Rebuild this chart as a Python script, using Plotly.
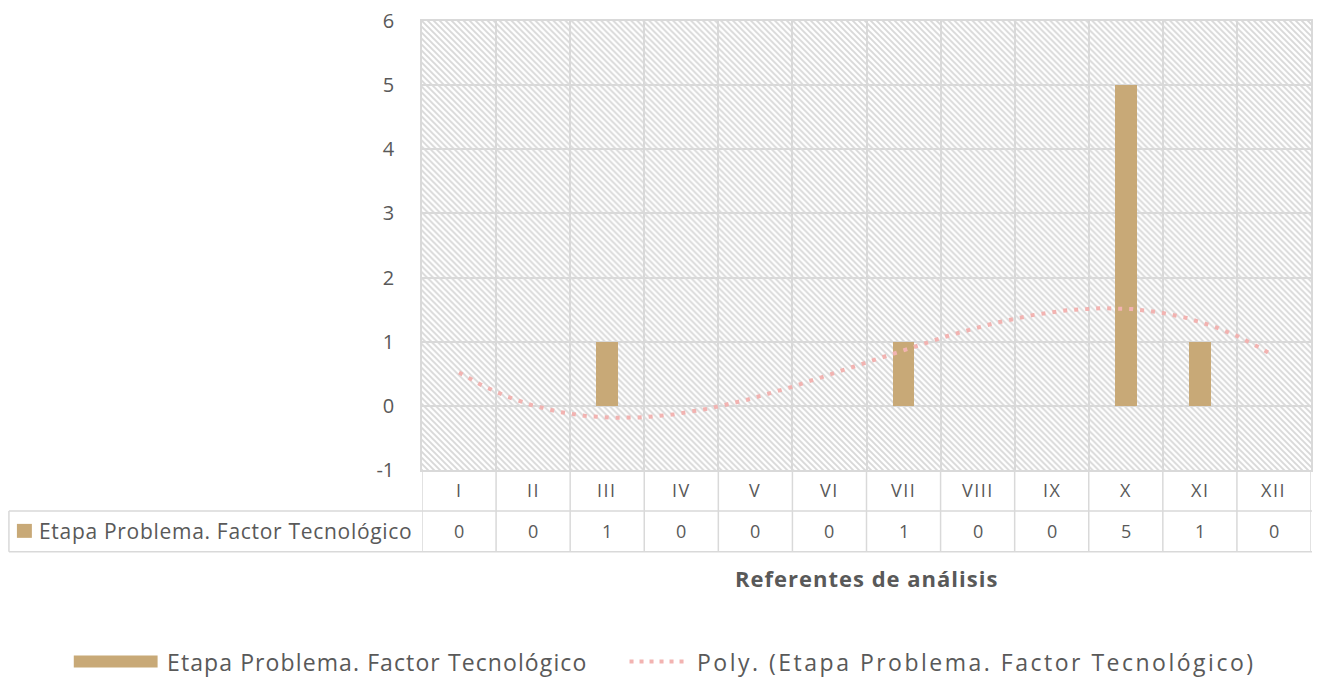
import base64
import numpy as np
import plotly.graph_objects as go

# --- data -------------------------------------------------------------
categories = ["I", "II", "III", "IV", "V", "VI", "VII", "VIII", "IX", "X", "XI", "XII"]
values = [0, 0, 1, 0, 0, 0, 1, 0, 0, 5, 1, 0]
series_name = "Etapa Problema. Factor Tecnológico"
trend_name = "Poly. (Etapa Problema. Factor Tecnológico)"
y_ticks = [-1, 0, 1, 2, 3, 4, 5, 6]
axis_title = "Referentes de análisis"

# --- styling ----------------------------------------------------------
BAR = "#C8A977"
TREND = "#F2B3B1"
GRID = "#D9D9D9"
TEXT = "#595959"
FONT = "'Open Sans', sans-serif"

W, H = 1320, 677
L, R, T, B = 422, 7, 20, 207
PW, PH = W - L - R, H - T - B


def xp(px):
    """pixel x -> paper x"""
    return (px - L) / PW


def yp(py):
    """pixel y -> paper y"""
    return (T + PH - py) / PH


def spaced(text, px):
    return f'<span style="letter-spacing:{px}px">{text}</span>'


n = len(categories)
idx = np.arange(n)
xmin, xmax = -0.5, n - 0.5
ymin, ymax = y_ticks[0], y_ticks[-1]
boundaries = list(np.arange(xmin, xmax + 0.01, 1.0))

# diagonal hatching used as the plot-area fill
hatch_svg = (
    f'<svg xmlns="http://www.w3.org/2000/svg" width="{PW}" height="{PH}">'
    '<defs><pattern id="h" patternUnits="userSpaceOnUse" width="6" height="6">'
    '<rect width="6" height="6" fill="white"/>'
    '<path d="M-1,-1 L7,7 M-1,5 L1,7 M5,-1 L7,1" stroke="#D8D8D8" stroke-width="1.9"/>'
    '</pattern></defs>'
    f'<rect width="{PW}" height="{PH}" fill="url(#h)"/></svg>'
)
hatch_src = "data:image/svg+xml;base64," + base64.b64encode(hatch_svg.encode()).decode()

fig = go.Figure()

# bars
fig.add_trace(go.Bar(x=idx, y=values, width=0.29, marker=dict(color=BAR, line=dict(width=0)),
                     name=series_name, showlegend=False))

# polynomial (order 3) trend line
coef = np.polyfit(idx + 1, values, 3)
xs = np.linspace(0, n - 1, 300)
ys = np.polyval(coef, xs + 1)
fig.add_trace(go.Scatter(x=xs, y=ys, mode="lines", name=trend_name, showlegend=False,
                         line=dict(color=TREND, width=4, dash="4px,7px")))

shapes = []
annotations = []


def note(x, y, text, size, xref="paper", xanchor="center"):
    annotations.append(dict(x=x, y=y, xref=xref, yref="paper", text=text, showarrow=False,
                            xanchor=xanchor, yanchor="middle",
                            font=dict(size=size, color=TEXT, family=FONT)))


# data table under the axis
row1_top, row2_top, row2_bot = 470, 511, 552
line = dict(color=GRID, width=1.5)
for yy in (row2_top, row2_bot):
    shapes.append(dict(type="line", xref="paper", yref="paper", x0=xp(8), x1=1 + 1 / PW,
                       y0=yp(yy), y1=yp(yy), line=line))
shapes.append(dict(type="line", xref="paper", yref="paper", x0=xp(8), x1=xp(8),
                   y0=yp(row2_top), y1=yp(row2_bot), line=line))
for b in boundaries:
    shapes.append(dict(type="line", xref="x", yref="paper", x0=b, x1=b,
                       y0=yp(row1_top), y1=yp(row2_bot), line=line))
for i, c in enumerate(categories):
    note(i, yp((row1_top + row2_top) / 2), spaced(c, 1.5), 18, xref="x")
    note(i, yp((row2_top + row2_bot) / 2), str(values[i]), 18, xref="x")
shapes.append(dict(type="rect", xref="paper", yref="paper", x0=xp(16), x1=xp(31),
                   y0=yp(524), y1=yp(538), fillcolor=BAR, line=dict(width=0)))
note(xp(36), yp(531.5), spaced(series_name, 0.7), 21, xanchor="left")

# axis title
note(xp(867), yp(578), "<b>" + spaced(axis_title, 1.0) + "</b>", 22)

# legend drawn beneath the chart
ly = 662
shapes.append(dict(type="rect", xref="paper", yref="paper", x0=xp(73), x1=xp(157),
                   y0=yp(ly - 6), y1=yp(ly + 6), fillcolor=BAR, line=dict(width=0)))
note(xp(164), yp(ly), spaced(series_name, 1.1), 23, xanchor="left")
shapes.append(dict(type="line", xref="paper", yref="paper", x0=xp(630), x1=xp(690),
                   y0=yp(ly), y1=yp(ly), line=dict(color=TREND, width=4, dash="4px,6px")))
note(xp(696), yp(ly), spaced(trend_name, 2.5), 23, xanchor="left")

fig.update_layout(
    width=W, height=H,
    margin=dict(l=L, r=R, t=T, b=B, pad=0),
    paper_bgcolor="white", plot_bgcolor="rgba(0,0,0,0)",
    font=dict(family=FONT, color=TEXT),
    bargap=0, showlegend=False,
    shapes=shapes, annotations=annotations,
    images=[dict(source=hatch_src, xref="paper", yref="paper", x=0, y=1, sizex=1, sizey=1,
                 sizing="stretch", xanchor="left", yanchor="top", layer="below")],
    xaxis=dict(range=[xmin, xmax], tickvals=boundaries, showgrid=True, gridcolor=GRID,
               gridwidth=1.5, zeroline=False, showticklabels=False, ticks="",
               showline=True, mirror=True, linecolor=GRID, linewidth=1.5, fixedrange=True),
    yaxis=dict(range=[ymin, ymax], tickvals=y_ticks, ticktext=[str(v) for v in y_ticks],
               showgrid=True, gridcolor=GRID, gridwidth=1.5, zeroline=False,
               showline=True, mirror=True, linecolor=GRID, linewidth=1.5,
               tickfont=dict(size=20, color=TEXT), ticks="", ticklabelstandoff=22,
               fixedrange=True),
)

fig.write_html("out.html")
